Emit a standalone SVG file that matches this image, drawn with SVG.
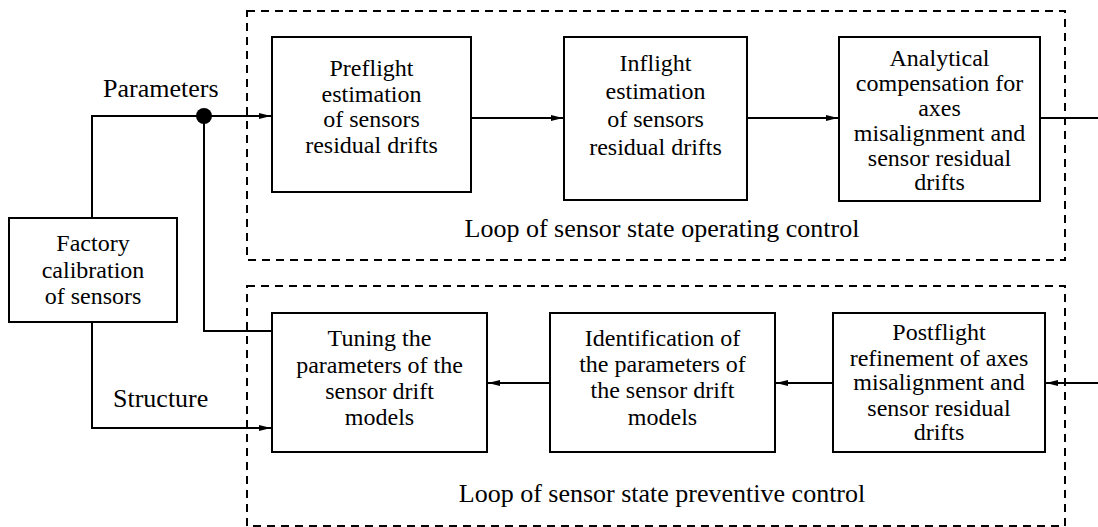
<svg xmlns="http://www.w3.org/2000/svg" width="1098" height="527" viewBox="0 0 1098 527">
<defs>
<marker id="ah" viewBox="0 0 12 8" refX="12" refY="4" markerWidth="12" markerHeight="8" markerUnits="userSpaceOnUse" orient="auto">
<path d="M0,1 L12,4 L0,7 Z" fill="#000"/>
</marker>
</defs>
<g id="loop-operating">
<rect x="247" y="11" width="818" height="249" fill="none" stroke="#000" stroke-width="2" stroke-dasharray="8 6"/>
<text style="font-family:'Liberation Serif',serif;font-size:26px" text-anchor="middle" x="662" y="237">Loop of sensor state operating control</text>
</g>
<g id="loop-preventive">
<rect x="247" y="286" width="818" height="240" fill="none" stroke="#000" stroke-width="2" stroke-dasharray="8 6"/>
<text style="font-family:'Liberation Serif',serif;font-size:26px" text-anchor="middle" x="662" y="502">Loop of sensor state preventive control</text>
</g>
<g id="connectors" fill="none" stroke="#000" stroke-width="2">
<polyline points="92,218 92,116 271,116" marker-end="url(#ah)"/>
<polyline points="204,116 204,331 272,331"/>
<polyline points="92,322 92,428 271,428" marker-end="url(#ah)"/>
<line x1="471" y1="118" x2="563" y2="118" marker-end="url(#ah)"/>
<line x1="747" y1="118" x2="838" y2="118" marker-end="url(#ah)"/>
<line x1="1040" y1="118" x2="1098" y2="118"/>
<line x1="1098" y1="383" x2="1046" y2="383" marker-end="url(#ah)"/>
<line x1="833" y1="383" x2="776" y2="383" marker-end="url(#ah)"/>
<line x1="550" y1="383" x2="488" y2="383" marker-end="url(#ah)"/>
<circle cx="204" cy="116" r="8" fill="#000" stroke="none"/>
<text stroke="none" fill="#000" style="font-family:'Liberation Serif',serif;font-size:26px" x="103" y="97">Parameters</text>
<text stroke="none" fill="#000" style="font-family:'Liberation Serif',serif;font-size:26px" x="113" y="407">Structure</text>
</g>
<g id="factory">
<rect x="9" y="218" width="168" height="104" fill="#fff" stroke="#000" stroke-width="2"/>
<text style="font-family:'Liberation Serif',serif;font-size:24px" text-anchor="middle" x="93" y="251">Factory</text>
<text style="font-family:'Liberation Serif',serif;font-size:24px" text-anchor="middle" x="93" y="278">calibration</text>
<text style="font-family:'Liberation Serif',serif;font-size:24px" text-anchor="middle" x="93" y="304">of sensors</text>
</g>
<g id="preflight">
<rect x="272" y="37" width="199" height="155" fill="#fff" stroke="#000" stroke-width="2"/>
<text style="font-family:'Liberation Serif',serif;font-size:24px" text-anchor="middle" x="371.5" y="75.5">Preflight</text>
<text style="font-family:'Liberation Serif',serif;font-size:24px" text-anchor="middle" x="371.5" y="101.5">estimation</text>
<text style="font-family:'Liberation Serif',serif;font-size:24px" text-anchor="middle" x="371.5" y="127">of sensors</text>
<text style="font-family:'Liberation Serif',serif;font-size:24px" text-anchor="middle" x="371.5" y="152.5">residual drifts</text>
</g>
<g id="inflight">
<rect x="564" y="37" width="183" height="163" fill="#fff" stroke="#000" stroke-width="2"/>
<text style="font-family:'Liberation Serif',serif;font-size:24px" text-anchor="middle" x="655.5" y="71">Inflight</text>
<text style="font-family:'Liberation Serif',serif;font-size:24px" text-anchor="middle" x="655.5" y="99">estimation</text>
<text style="font-family:'Liberation Serif',serif;font-size:24px" text-anchor="middle" x="655.5" y="127">of sensors</text>
<text style="font-family:'Liberation Serif',serif;font-size:24px" text-anchor="middle" x="655.5" y="155">residual drifts</text>
</g>
<g id="analytical">
<rect x="839" y="37" width="201" height="164" fill="#fff" stroke="#000" stroke-width="2"/>
<text style="font-family:'Liberation Serif',serif;font-size:24px" text-anchor="middle" x="939.5" y="66">Analytical</text>
<text style="font-family:'Liberation Serif',serif;font-size:24px" text-anchor="middle" x="939.5" y="91">compensation for</text>
<text style="font-family:'Liberation Serif',serif;font-size:24px" text-anchor="middle" x="939.5" y="115.5">axes</text>
<text style="font-family:'Liberation Serif',serif;font-size:24px" text-anchor="middle" x="939.5" y="141">misalignment and</text>
<text style="font-family:'Liberation Serif',serif;font-size:24px" text-anchor="middle" x="939.5" y="166">sensor residual</text>
<text style="font-family:'Liberation Serif',serif;font-size:24px" text-anchor="middle" x="939.5" y="190">drifts</text>
</g>
<g id="tuning">
<rect x="272" y="313" width="215" height="139" fill="#fff" stroke="#000" stroke-width="2"/>
<text style="font-family:'Liberation Serif',serif;font-size:24px" text-anchor="middle" x="379.5" y="346">Tuning the</text>
<text style="font-family:'Liberation Serif',serif;font-size:24px" text-anchor="middle" x="379.5" y="372.5">parameters of the</text>
<text style="font-family:'Liberation Serif',serif;font-size:24px" text-anchor="middle" x="379.5" y="399">sensor drift</text>
<text style="font-family:'Liberation Serif',serif;font-size:24px" text-anchor="middle" x="379.5" y="425">models</text>
</g>
<g id="identification">
<rect x="550" y="313" width="225" height="139" fill="#fff" stroke="#000" stroke-width="2"/>
<text style="font-family:'Liberation Serif',serif;font-size:24px" text-anchor="middle" x="662.5" y="346">Identification of</text>
<text style="font-family:'Liberation Serif',serif;font-size:24px" text-anchor="middle" x="662.5" y="372">the parameters of</text>
<text style="font-family:'Liberation Serif',serif;font-size:24px" text-anchor="middle" x="662.5" y="398">the sensor drift</text>
<text style="font-family:'Liberation Serif',serif;font-size:24px" text-anchor="middle" x="662.5" y="425">models</text>
</g>
<g id="postflight">
<rect x="833" y="313" width="212" height="139" fill="#fff" stroke="#000" stroke-width="2"/>
<text style="font-family:'Liberation Serif',serif;font-size:24px" text-anchor="middle" x="939" y="340">Postflight</text>
<text style="font-family:'Liberation Serif',serif;font-size:24px" text-anchor="middle" x="939" y="366">refinement of axes</text>
<text style="font-family:'Liberation Serif',serif;font-size:24px" text-anchor="middle" x="939" y="390">misalignment and</text>
<text style="font-family:'Liberation Serif',serif;font-size:24px" text-anchor="middle" x="939" y="416">sensor residual</text>
<text style="font-family:'Liberation Serif',serif;font-size:24px" text-anchor="middle" x="939" y="440">drifts</text>
</g>
</svg>
